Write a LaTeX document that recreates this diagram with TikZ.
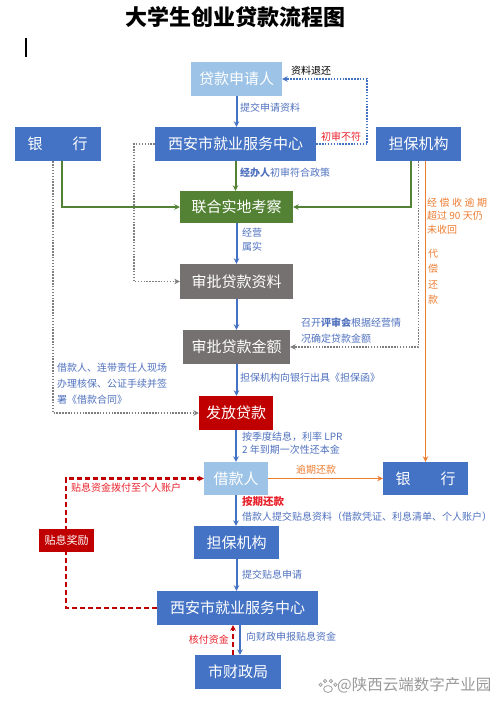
\documentclass[tikz,border=0pt]{standalone}
\usepackage{fontspec}
\setmainfont{Noto Sans CJK SC}
\usetikzlibrary{arrows.meta}
\definecolor{boxblue}{HTML}{4472C4}
\definecolor{lightblue}{HTML}{9DC3E6}
\definecolor{boxgreen}{HTML}{548235}
\definecolor{boxgray}{HTML}{767171}
\definecolor{boxred}{HTML}{C00000}
\definecolor{lineorange}{HTML}{ED7D31}
\definecolor{textblue}{HTML}{4F71BE}
\definecolor{dotgray}{HTML}{7F7F7F}
\definecolor{textred}{HTML}{E8202A}

\begin{document}
\begin{tikzpicture}[x=1pt,y=-1pt,>={Stealth[length=5.5pt,width=5.5pt]}]

        % Styles
        \tikzstyle{box}=[inner sep=0pt,text=white,font=\fontsize{15}{15}\selectfont]
        \tikzstyle{blue box}=[box,fill=boxblue]
        \tikzstyle{light box}=[box,fill=lightblue]
        \tikzstyle{green box}=[box,fill=boxgreen]
        \tikzstyle{gray box}=[box,fill=boxgray]
        \tikzstyle{red box}=[box,fill=boxred]
        \tikzstyle{label text}=[anchor=west,inner sep=0pt,text=textblue,font=\fontsize{10}{14}\selectfont,align=left]
        \tikzstyle{blue line}=[->,draw=boxblue,line width=2pt]
        \tikzstyle{green line}=[->,draw=boxgreen,line width=2pt]
        \tikzstyle{orange line}=[->,draw=lineorange,line width=1.8pt]
        \tikzstyle{dot line}=[->,draw=dotgray,line width=1.6pt,dash pattern=on 1.5pt off 1.4pt]
        \tikzstyle{red dash}=[->,draw=boxred,line width=2.2pt,dash pattern=on 5pt off 3pt]
        %The graphic
        \useasboundingbox (0,0) rectangle (500,703);
        \node[font=\fontsize{22}{22}\selectfont\bfseries] (title) at (235,17) {大学生创业贷款流程图};
        \draw[line width=1.5pt] (26,38) -- (26,57);

        % boxes
        \node[light box,minimum width=91,minimum height=34] (appl) at (236.5,79) {贷款申请人};
        \node[blue box,minimum width=86,minimum height=34] (bank1) at (57.5,144) {银\hspace{2em}行};
        \node[blue box,minimum width=161,minimum height=34] (center1) at (235.5,144) {西安市就业服务中心};
        \node[blue box,minimum width=85,minimum height=34] (guar1) at (418.5,144) {担保机构};
        \node[green box,minimum width=113,minimum height=32] (survey) at (236.5,207) {联合实地考察};
        \node[gray box,minimum width=113,minimum height=35] (review) at (236.5,281.5) {审批贷款资料};
        \node[gray box,minimum width=107,minimum height=34] (amount) at (236.5,347) {审批贷款金额};
        \node[red box,minimum width=74,minimum height=34] (issue) at (236,413) {发放贷款};
        \node[light box,minimum width=64,minimum height=33] (borrower) at (236,478.5) {借款人};
        \node[blue box,minimum width=85,minimum height=33] (bank2) at (425.5,478.5) {银\hspace{2em}行};
        \node[blue box,minimum width=85,minimum height=33] (guar2) at (236.5,542.5) {担保机构};
        \node[blue box,minimum width=161,minimum height=34] (center2) at (237.5,608) {西安市就业服务中心};
        \node[blue box,minimum width=86,minimum height=34] (finance) at (238,672) {市财政局};

        % connectors
        \draw[blue line] (appl.south) -- (appl.south |- center1.north);
        \draw[dot line,draw=boxblue] (center1.east) -- ++(51,0) |- (appl.east);
        \draw[dot line] (center1.west) -- ++(-21,0) |- (review.west);
        \draw[green line] ([xshift=4.5pt]bank1.south) |- (survey.west);
        \draw[green line] ([xshift=-8pt]guar1.south) |- (survey.east);
        \draw[dot line] (guar1.south) |- (amount.east);
        \draw[orange line] (guar1.south -| bank2.north) -- (bank2.north);
        \draw[green line] (center1.south) -- (center1.south |- survey.north);
        \draw[blue line] (survey.south) -- (survey.south |- review.north);
        \draw[blue line] (review.south) -- (review.south |- amount.north);
        \draw[dot line] ([xshift=-4.5pt]bank1.south) |- (issue.west);
        \draw[blue line] (amount.south) -- (amount.south |- issue.north);
        \draw[blue line] (issue.south) -- (issue.south |- borrower.north);
        \draw[orange line] (borrower) -- (bank2);
        \draw[blue line] (borrower.south) -- (borrower.south |- guar2.north);
        \draw[blue line] (guar2.south) -- (guar2.south |- center2.north);
        \draw[red dash] (center2.west) -- ++(-91,0) |- (borrower.west);
        \node[red box,minimum width=55,minimum height=23,font=\fontsize{11}{11}\selectfont] (reward) at (66.5,540.5) {贴息奖励};
        \draw[red dash] ([xshift=-5pt]finance.north) -- ([xshift=-5pt]finance.north |- center2.south);
        \draw[blue line] ([xshift=2pt]finance.north |- center2.south) -- ([xshift=2pt]finance.north);

        % labels
        \node[label text] (l1) at (240,108) {提交申请资料};
        \node[label text,text=black] (l2) at (291,71) {资料退还};
        \node[label text,text=textred] (l3) at (321,137) {初审不符};
        \node[label text] (l4) at (240,173) {\textbf{经办人}初审符合政策};
        \node[label text] (l5) at (242,240) {经营\\属实};
        \node[label text,font=\fontsize{10}{16}\selectfont] (l6) at (301,331) {召开\textbf{评审会}根据经营情\\况确定贷款金额};
        \node[label text,font=\fontsize{10}{16}\selectfont] (l7) at (57,384) {借款人、连带责任人现场\\办理核保、公证手续并签\\署《借款合同》};
        \node[label text] (l8) at (240,378) {担保机构向银行出具《担保函》};
        \node[label text,font=\fontsize{10}{12.5}\selectfont] (l9) at (242,443) {按季度结息，利率 LPR\\2 年到期一次性还本金};
        \node[label text,text=lineorange] (l10) at (296,470) {逾期还款};
        \node[label text,text=textred] (l11) at (71,488) {贴息资金拨付至个人账户};
        \node[label text,text=textred,font=\fontsize{10.5}{12}\selectfont\bfseries] (l12) at (242,502) {按期还款};
        \node[label text] (l13) at (242,517) {借款人提交贴息资料（借款凭证、利息清单、个人账户）};
        \node[label text] (l14) at (242,575) {提交贴息申请};
        \node[label text,text=textred,anchor=east] (l15) at (229,640) {核付资金};
        \node[label text] (l16) at (246,637) {向财政申报贴息资金};
        \node[label text,text=lineorange,font=\fontsize{10}{13.5}\selectfont] (l17) at (427,216) {经\hspace{2.5pt}偿\hspace{2.5pt}收\hspace{2.5pt}逾\hspace{2.5pt}期\\超过 90 天仍\\未收回};
        \foreach \c [count=\i] in {代,偿,还,款}
            \node[text=lineorange,inner sep=0pt,font=\fontsize{10}{12}\selectfont] at (433,238+15.5*\i) {\c};

        % watermark
        \begin{scope}[draw=gray!70,line width=0.9pt]
            \draw (328,689) ellipse (4.3 and 3.4);
            \foreach \a in {-60,-20,20,60}
                \draw[shift={(328,689)}] (\a-90:8.5) circle (1.7);
        \end{scope}
        \node[anchor=west,inner sep=0pt,text=gray!80,font=\fontsize{15.5}{16}\selectfont] (mark) at (337,685) {@陕西云端数字产业园};
\end{tikzpicture}
\end{document}
